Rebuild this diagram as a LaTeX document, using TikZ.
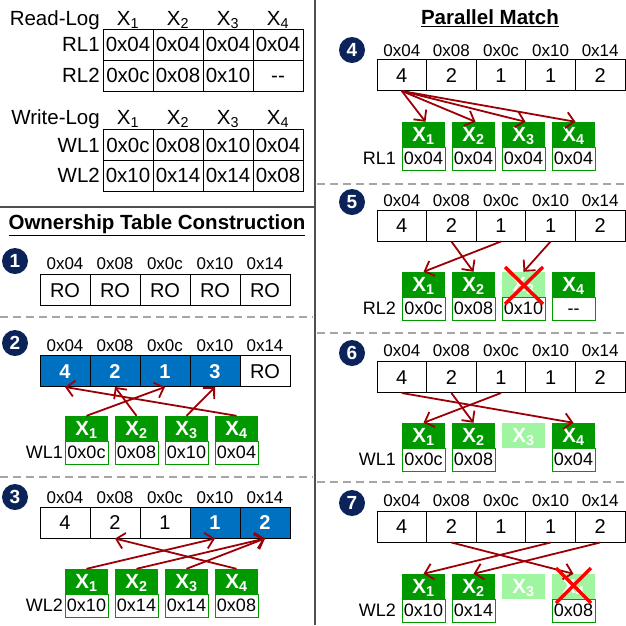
\documentclass[tikz,border=0pt]{standalone}
\usepackage{fontspec}
\setmainfont{Liberation Sans}
\usetikzlibrary{arrows.meta}
\definecolor{ablue}{HTML}{0070C0}
\definecolor{dgreen}{HTML}{009900}
\definecolor{lgreen}{HTML}{A0F5A0}
\definecolor{dred}{HTML}{9C0006}
\definecolor{navy}{HTML}{0B2359}
\definecolor{divider}{HTML}{505050}
\definecolor{dashgray}{HTML}{A6A6A6}
\newcommand{\fs}[1]{\fontsize{#1}{#1}\selectfont}
\tikzset{
 cell/.style={draw=black, line width=1pt, minimum width=49.6pt, minimum height=31pt, inner sep=0pt, text height=14.3pt, text depth=0pt, font=\fs{20}},
 tcell/.style={cell, minimum width=50pt, font=\fs{20.5}},
 bcell/.style={cell, fill=ablue, text=white, font=\fs{20}\bfseries},
 addr/.style={inner sep=0pt, text height=12.2pt, text depth=0pt, font=\fs{17}},
 tlab/.style={inner sep=0pt, anchor=east, text height=14.6pt, text depth=0pt, font=\fs{20.5}},
 plab/.style={inner sep=0pt, anchor=east, text height=12.9pt, text depth=0pt, font=\fs{18}},
 hdr/.style={inner sep=0pt, text height=14.6pt, text depth=0pt, font=\fs{20.5}},
 xbox/.style={fill=dgreen, text=white, minimum width=43pt, minimum height=25pt, inner sep=0pt, text height=14.5pt, text depth=0pt, font=\fs{20.5}\bfseries},
 xlight/.style={xbox, fill=lgreen},
 vbox/.style={draw=dgreen, fill=white, line width=1pt, minimum width=43pt, minimum height=23pt, inner sep=0pt, text height=12.9pt, text depth=0pt, font=\fs{18}},
 badge/.style={circle, fill=navy, text=white, minimum size=26pt, inner sep=0pt, text height=13.6pt, text depth=0pt, font=\fs{19}\bfseries},
 arr/.style={draw=dred, line width=1.8pt, -{Straight Barb[length=8pt,width=16pt,line width=1.8pt]}},
 xcross/.style={draw=red, line width=3.5pt},
 sepline/.style={draw=dashgray, line width=1.5pt, dash pattern=on 8pt off 5pt},
 ttl/.style={inner sep=0pt, font=\fs{20.5}\bfseries}
}
\begin{document}
\begin{tikzpicture}[x=1pt,y=-1pt]
\useasboundingbox[fill=white] (0,0) rectangle (626,625);

% frame lines
\coordinate (vt) at (315,0); \coordinate (vb) at (315,625);
\draw[divider, line width=2pt] (vt) -- (vb);
\coordinate (hl) at (0,207); \coordinate (hr) at (314,207);
\draw[divider, line width=2pt] (hl) -- (hr);
\coordinate (d1l) at (0,317); \coordinate (d1r) at (313,317);
\coordinate (d2l) at (0,477); \coordinate (d2r) at (313,477);
\coordinate (d3l) at (317,184); \coordinate (d3r) at (626,184);
\coordinate (d4l) at (317,333); \coordinate (d4r) at (626,333);
\coordinate (d5l) at (317,482); \coordinate (d5r) at (626,482);
\draw[sepline] (d1l) -- (d1r);
\draw[sepline] (d2l) -- (d2r);
\draw[sepline] (d3l) -- (d3r);
\draw[sepline] (d4l) -- (d4r);
\draw[sepline] (d5l) -- (d5r);

% ---------- Read-Log / Write-Log tables ----------
\node[tlab] (rlh) at (100,18) {Read-Log};
\foreach \i in {1,...,4} \node[hdr] (rx\i) at (78+50*\i,18) {X\textsubscript{\i}};
\node[tlab] (rl1) at (100,44.5) {RL1};
\foreach \v [count=\i] in {0x04,0x04,0x04,0x04} \node[tcell] (rlA\i) at (78+50*\i,44.5) {\v};
\node[tlab] (rl2) at (100,75.5) {RL2};
\foreach \v [count=\i] in {0x0c,0x08,0x10,{-}{-}} \node[tcell] (rlB\i) at (78+50*\i,75.5) {\v};

\node[tlab] (wlh) at (100,117) {Write-Log};
\foreach \i in {1,...,4} \node[hdr] (wx\i) at (78+50*\i,117) {X\textsubscript{\i}};
\node[tlab] (wl1) at (100,145) {WL1};
\foreach \v [count=\i] in {0x0c,0x08,0x10,0x04} \node[tcell] (wlA\i) at (78+50*\i,145) {\v};
\node[tlab] (wl2) at (100,175.5) {WL2};
\foreach \v [count=\i] in {0x10,0x14,0x14,0x08} \node[tcell] (wlB\i) at (78+50*\i,175.5) {\v};

% ---------- titles ----------
\node[ttl] (t1) at (157,225) {\underline{Ownership Table Construction}};
\node[ttl] (t2) at (490,18) {\underline{Parallel Match}};

% ---------- Panel 1 ----------
\node[badge] (b1) at (15,261) {1};
\foreach \a [count=\i] in {0x04,0x08,0x0c,0x10,0x14} \node[addr] (p1a\i) at (15+50*\i,263) {\a};
\foreach \i in {1,...,5} \node[cell,minimum width=50pt] (p1c\i) at (15+50*\i,290) {RO};

% ---------- Panel 2 ----------
\node[badge] (b2) at (15,343) {2};
\foreach \a [count=\i] in {0x04,0x08,0x0c,0x10,0x14} \node[addr] (p2a\i) at (15+50*\i,345) {\a};
\foreach \v/\s [count=\i] in {4/bcell,2/bcell,1/bcell,3/bcell,RO/cell} \node[\s,minimum width=50pt] (p2c\i) at (15+50*\i,371) {\v};
\foreach \i in {1,...,4} \node[xbox] (p2x\i) at (36.5+50*\i,428.5) {X\textsubscript{\i}};
\foreach \v [count=\i] in {0x0c,0x08,0x10,0x04} \node[vbox] (p2v\i) at (36.5+50*\i,452.5) {\v};
\node[plab] (p2l) at (63,452.5) {WL1};
\draw[arr] (p2x1.north) -- (p2c3.south);
\draw[arr] (p2x2.north) -- (p2c2.south);
\draw[arr] (p2x3.north) -- (p2c4.south);
\draw[arr] (p2x4.north) -- (p2c1.south);

% ---------- Panel 3 ----------
\node[badge] (b3) at (15,497) {3};
\foreach \a [count=\i] in {0x04,0x08,0x0c,0x10,0x14} \node[addr] (p3a\i) at (15+50*\i,497) {\a};
\foreach \v/\s [count=\i] in {4/cell,2/cell,1/cell,1/bcell,2/bcell} \node[\s,minimum width=50pt] (p3c\i) at (15+50*\i,522.5) {\v};
\foreach \i in {1,...,4} \node[xbox] (p3x\i) at (36.5+50*\i,581.5) {X\textsubscript{\i}};
\foreach \v [count=\i] in {0x10,0x14,0x14,0x08} \node[vbox] (p3v\i) at (36.5+50*\i,605.5) {\v};
\node[plab] (p3l) at (63,605.5) {WL2};
\draw[arr] (p3x1.north) -- (p3c4.south);
\draw[arr] (p3x2.north) -- (p3c5.south);
\draw[arr] (p3x3.north) -- (p3c5.south);
\draw[arr] (p3x4.north) -- (p3c2.south);

% ---------- Panel 4 ----------
\node[badge] (b4) at (352,50) {4};
\foreach \a [count=\i] in {0x04,0x08,0x0c,0x10,0x14} \node[addr] (p4a\i) at (352.2+49.6*\i,50) {\a};
\foreach \v [count=\i] in {4,2,1,1,2} \node[cell] (p4c\i) at (352.2+49.6*\i,75) {\v};
\foreach \i in {1,...,4} \node[xbox] (p4x\i) at (373.5+50*\i,134.5) {X\textsubscript{\i}};
\foreach \v [count=\i] in {0x04,0x04,0x04,0x04} \node[vbox] (p4v\i) at (373.5+50*\i,158.5) {\v};
\node[plab] (p4l) at (396,158.5) {RL1};
\foreach \i in {1,...,4} \draw[arr] (p4c1.south) -- ([xshift=2pt]p4x\i.north);

% ---------- Panel 5 ----------
\node[badge] (b5) at (352,202) {5};
\foreach \a [count=\i] in {0x04,0x08,0x0c,0x10,0x14} \node[addr] (p5a\i) at (352.2+49.6*\i,200) {\a};
\foreach \v [count=\i] in {4,2,1,1,2} \node[cell] (p5c\i) at (352.2+49.6*\i,225.5) {\v};
\node[xbox] (p5x1) at (423.5,284.5) {X\textsubscript{1}};
\node[xbox] (p5x2) at (473.5,284.5) {X\textsubscript{2}};
\node[xlight] (p5x3) at (523.5,284.5) {X\textsubscript{3}};
\node[xbox] (p5x4) at (573.5,284.5) {X\textsubscript{4}};
\foreach \v [count=\i] in {0x0c,0x08,0x10,{-}{-}} \node[vbox] (p5v\i) at (373.5+50*\i,308.5) {\v};
\node[plab] (p5l) at (396,308.5) {RL2};
\draw[arr] (p5c3.south) -- (p5x1.north);
\draw[arr] (p5c2.south) -- (p5x2.north);
\draw[arr] (p5c4.south) -- (p5x3.north);
\draw[xcross] ([shift={(-18.5,-17.5)}]p5x3.center) -- ([shift={(19.5,19.5)}]p5x3.center);
\draw[xcross] ([shift={(19.5,-17.5)}]p5x3.center) -- ([shift={(-18.5,19.5)}]p5x3.center);

% ---------- Panel 6 ----------
\node[badge] (b6) at (352,353) {6};
\foreach \a [count=\i] in {0x04,0x08,0x0c,0x10,0x14} \node[addr] (p6a\i) at (352.2+49.6*\i,350) {\a};
\foreach \v [count=\i] in {4,2,1,1,2} \node[cell] (p6c\i) at (352.2+49.6*\i,377) {\v};
\node[xbox] (p6x1) at (423.5,435.5) {X\textsubscript{1}};
\node[xbox] (p6x2) at (473.5,435.5) {X\textsubscript{2}};
\node[xlight] (p6x3) at (523.5,435.5) {X\textsubscript{3}};
\node[xbox] (p6x4) at (573.5,435.5) {X\textsubscript{4}};
\node[vbox] (p6v1) at (423.5,459.5) {0x0c};
\node[vbox] (p6v2) at (473.5,459.5) {0x08};
\node[vbox] (p6v4) at (573.5,459.5) {0x04};
\node[plab] (p6l) at (396,459.5) {WL1};
\draw[arr] (p6c3.south) -- (p6x1.north);
\draw[arr] (p6c2.south) -- (p6x2.north);
\draw[arr] (p6c1.south) -- (p6x4.north);

% ---------- Panel 7 ----------
\node[badge] (b7) at (352,503) {7};
\foreach \a [count=\i] in {0x04,0x08,0x0c,0x10,0x14} \node[addr] (p7a\i) at (352.2+49.6*\i,500) {\a};
\foreach \v [count=\i] in {4,2,1,1,2} \node[cell] (p7c\i) at (352.2+49.6*\i,526.5) {\v};
\node[xbox] (p7x1) at (423.5,586.5) {X\textsubscript{1}};
\node[xbox] (p7x2) at (473.5,586.5) {X\textsubscript{2}};
\node[xlight] (p7x3) at (523.5,586.5) {X\textsubscript{3}};
\node[xlight] (p7x4) at (573.5,586.5) {X\textsubscript{4}};
\node[vbox] (p7v1) at (423.5,610.5) {0x10};
\node[vbox] (p7v2) at (473.5,610.5) {0x14};
\node[vbox] (p7v4) at (573.5,610.5) {0x08};
\node[plab] (p7l) at (396,610.5) {WL2};
\draw[arr] (p7c4.south) -- (p7x1.north);
\draw[arr] (p7c5.south) -- (p7x2.north);
\draw[arr] (p7c2.south) -- (p7x4.north);
\draw[xcross] ([shift={(-17.5,-18.5)}]p7x4.center) -- ([shift={(17.5,16.5)}]p7x4.center);
\draw[xcross] ([shift={(17.5,-18.5)}]p7x4.center) -- ([shift={(-17.5,16.5)}]p7x4.center);
\end{tikzpicture}
\end{document}
